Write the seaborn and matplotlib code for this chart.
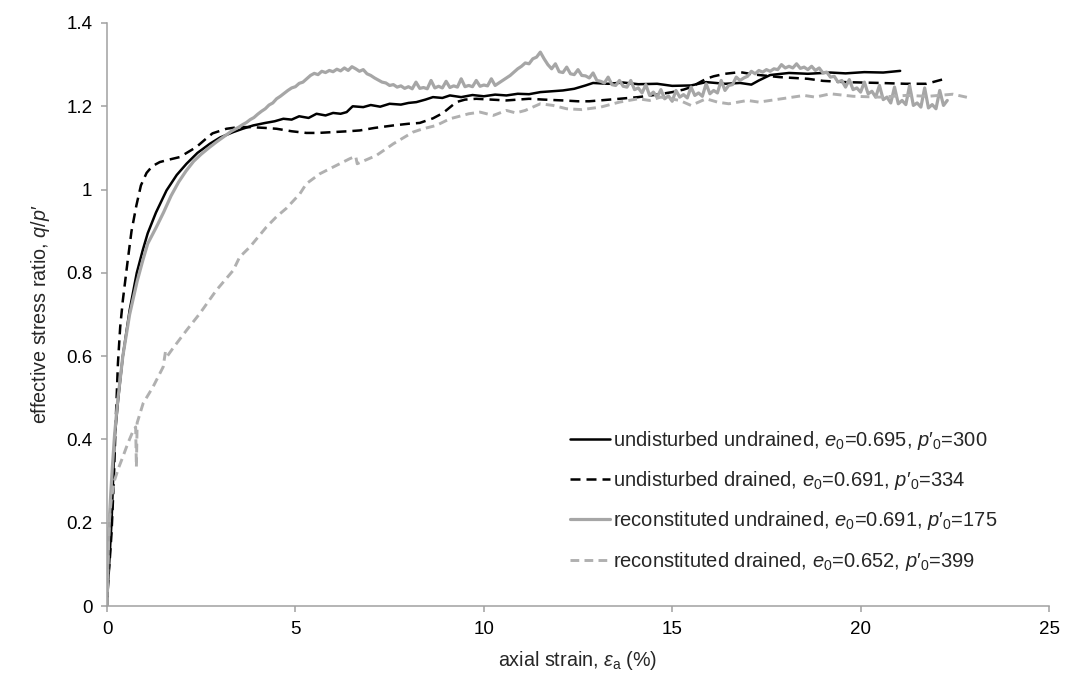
import numpy as np
import pandas as pd
import matplotlib
matplotlib.use("Agg")
import matplotlib.pyplot as plt
from matplotlib.ticker import FuncFormatter
import seaborn as sns

# ---- measured curves: (axial strain %, effective stress ratio q/p') ----
und_undrained = [
    (0.0, 0.0), (0.03, 0.06), (0.07, 0.12), (0.10, 0.17), (0.12, 0.20), (0.16, 0.30),
    (0.20, 0.40), (0.30, 0.50), (0.42, 0.60), (0.60, 0.71), (0.79, 0.80), (0.95, 0.855),
    (1.08, 0.895), (1.30, 0.945), (1.58, 0.998), (1.85, 1.035), (2.11, 1.062),
    (2.40, 1.088), (2.73, 1.110), (3.00, 1.125), (3.35, 1.138), (3.60, 1.146),
    (3.88, 1.154), (4.20, 1.160), (4.45, 1.164), (4.68, 1.170), (4.90, 1.168),
    (5.10, 1.176), (5.35, 1.172), (5.56, 1.182), (5.80, 1.178), (6.00, 1.184),
    (6.20, 1.182), (6.36, 1.186), (6.45, 1.194), (6.52, 1.200), (6.80, 1.198),
    (7.00, 1.203), (7.25, 1.199), (7.50, 1.206), (7.80, 1.204), (8.00, 1.208),
    (8.21, 1.210), (8.45, 1.216), (8.65, 1.222), (8.90, 1.220), (9.10, 1.226),
    (9.40, 1.222), (9.70, 1.227), (10.00, 1.224), (10.30, 1.228), (10.60, 1.226),
    (10.90, 1.230), (11.20, 1.229), (11.50, 1.234), (11.80, 1.236), (12.10, 1.238),
    (12.40, 1.242), (12.70, 1.250), (12.90, 1.256), (13.30, 1.254), (13.70, 1.257),
    (14.10, 1.253), (14.60, 1.254), (15.00, 1.249), (15.50, 1.250), (15.90, 1.258),
    (16.40, 1.254), (16.80, 1.256), (17.10, 1.252), (17.30, 1.262), (17.60, 1.275),
    (18.10, 1.280), (18.60, 1.278), (19.20, 1.281), (19.60, 1.279), (20.10, 1.282),
    (20.60, 1.281), (21.05, 1.285),
]

und_drained = [
    (0.0, 0.0), (0.03, 0.06), (0.08, 0.12), (0.12, 0.175), (0.18, 0.30), (0.23, 0.44),
    (0.29, 0.583), (0.35, 0.67), (0.42, 0.734), (0.55, 0.83), (0.65, 0.90), (0.78, 0.962),
    (0.90, 1.010), (1.05, 1.040), (1.20, 1.056), (1.40, 1.066), (1.65, 1.072),
    (1.93, 1.078), (2.15, 1.090), (2.37, 1.102), (2.60, 1.120), (2.80, 1.135),
    (3.17, 1.146), (3.50, 1.150), (3.79, 1.150), (4.20, 1.148), (4.50, 1.146),
    (4.90, 1.140), (5.29, 1.136), (5.60, 1.136), (6.00, 1.138), (6.40, 1.140),
    (6.71, 1.142), (7.10, 1.148), (7.60, 1.154), (8.00, 1.158), (8.30, 1.160),
    (8.65, 1.171), (8.90, 1.183), (9.00, 1.190), (9.27, 1.210), (9.50, 1.216),
    (9.80, 1.218), (10.20, 1.216), (10.60, 1.214), (10.90, 1.216), (11.20, 1.218),
    (11.60, 1.216), (12.10, 1.214), (12.50, 1.212), (12.80, 1.212), (13.20, 1.215),
    (13.60, 1.218), (14.10, 1.222), (14.60, 1.228), (15.00, 1.234), (15.30, 1.240),
    (15.50, 1.246), (15.70, 1.256), (15.90, 1.266), (16.10, 1.272), (16.40, 1.278),
    (16.80, 1.282), (17.20, 1.276), (17.85, 1.270), (18.60, 1.266), (19.00, 1.261),
    (19.60, 1.258), (20.50, 1.256), (21.20, 1.254), (21.75, 1.254), (22.20, 1.265),
]

rec_undrained = [
    (0.0, 0.0), (0.02, 0.10), (0.04, 0.16), (0.07, 0.22), (0.10, 0.27), (0.14, 0.33),
    (0.20, 0.41), (0.28, 0.49), (0.42, 0.60), (0.60, 0.70), (0.80, 0.78), (0.95, 0.83),
    (1.08, 0.87), (1.31, 0.91), (1.50, 0.945), (1.70, 0.985), (1.90, 1.018),
    (2.10, 1.045), (2.30, 1.068), (2.50, 1.085), (2.70, 1.100), (2.90, 1.114),
    (3.10, 1.127), (3.30, 1.140),
    (3.5, 1.150), (3.6, 1.156), (3.7, 1.161), (3.8, 1.168), (3.9, 1.173), (4.0, 1.181),
    (4.1, 1.188), (4.2, 1.194), (4.3, 1.203), (4.4, 1.208), (4.5, 1.218), (4.6, 1.224),
    (4.7, 1.231), (4.8, 1.238), (4.9, 1.244), (5.0, 1.247), (5.1, 1.255), (5.2, 1.258),
    (5.3, 1.266), (5.4, 1.274), (5.5, 1.279), (5.6, 1.276), (5.7, 1.284), (5.8, 1.281),
    (5.9, 1.286), (6.0, 1.283), (6.1, 1.289), (6.2, 1.285), (6.3, 1.292), (6.4, 1.286),
    (6.5, 1.295), (6.6, 1.290), (6.7, 1.284), (6.8, 1.288), (6.9, 1.278), (7.0, 1.274),
    (7.1, 1.268), (7.2, 1.263), (7.3, 1.258), (7.4, 1.256), (7.5, 1.250), (7.6, 1.252),
    (7.7, 1.246), (7.8, 1.249), (7.9, 1.243), (8.0, 1.247), (8.1, 1.242), (8.2, 1.258),
    (8.3, 1.243), (8.4, 1.245), (8.5, 1.242), (8.6, 1.262), (8.7, 1.244), (8.8, 1.248),
    (8.9, 1.244), (9.0, 1.260), (9.1, 1.245), (9.2, 1.249), (9.3, 1.246), (9.4, 1.266),
    (9.5, 1.247), (9.6, 1.250), (9.7, 1.247), (9.8, 1.262), (9.9, 1.248), (10.0, 1.251),
    (10.1, 1.249), (10.2, 1.266), (10.3, 1.250), (10.4, 1.256), (10.5, 1.262),
    (10.6, 1.268), (10.7, 1.274), (10.8, 1.282), (10.9, 1.290), (11.0, 1.296),
    (11.1, 1.304), (11.2, 1.302), (11.3, 1.314), (11.4, 1.318), (11.5, 1.330),
    (11.6, 1.314), (11.7, 1.300), (11.8, 1.290), (11.9, 1.302), (12.0, 1.283),
    (12.1, 1.281), (12.2, 1.294), (12.3, 1.278), (12.4, 1.276), (12.5, 1.288),
    (12.6, 1.274), (12.7, 1.273), (12.8, 1.268), (12.9, 1.280), (13.0, 1.262),
    (13.1, 1.260), (13.2, 1.256), (13.3, 1.270), (13.4, 1.252), (13.5, 1.250),
    (13.6, 1.262), (13.7, 1.248), (13.8, 1.246), (13.9, 1.262), (14.0, 1.240),
    (14.1, 1.244), (14.2, 1.232), (14.3, 1.252), (14.4, 1.226), (14.5, 1.234),
    (14.6, 1.222), (14.7, 1.240), (14.8, 1.218), (14.9, 1.225), (15.0, 1.212),
    (15.1, 1.238), (15.2, 1.222), (15.3, 1.228), (15.4, 1.220), (15.5, 1.246),
    (15.6, 1.226), (15.7, 1.232), (15.8, 1.224), (15.9, 1.254), (16.0, 1.230),
    (16.1, 1.238), (16.2, 1.232), (16.3, 1.262), (16.4, 1.238), (16.5, 1.250),
    (16.6, 1.252), (16.7, 1.270), (16.8, 1.262), (16.9, 1.268), (17.0, 1.272),
    (17.1, 1.284), (17.2, 1.278), (17.3, 1.286), (17.4, 1.282), (17.5, 1.288),
    (17.6, 1.284), (17.7, 1.290), (17.8, 1.288), (17.9, 1.300), (18.0, 1.292),
    (18.1, 1.296), (18.2, 1.292), (18.3, 1.302), (18.4, 1.291), (18.5, 1.294),
    (18.6, 1.288), (18.7, 1.296), (18.8, 1.286), (18.9, 1.292), (19.0, 1.280),
    (19.1, 1.282), (19.2, 1.270), (19.3, 1.272), (19.4, 1.258), (19.5, 1.262),
    (19.6, 1.246), (19.7, 1.264), (19.8, 1.240), (19.9, 1.244), (20.0, 1.234),
    (20.1, 1.258), (20.2, 1.230), (20.3, 1.236), (20.4, 1.222), (20.5, 1.250),
    (20.6, 1.216), (20.7, 1.222), (20.8, 1.208), (20.9, 1.246), (21.0, 1.206),
    (21.1, 1.214), (21.2, 1.204), (21.3, 1.250), (21.4, 1.202), (21.5, 1.208),
    (21.6, 1.198), (21.7, 1.244), (21.8, 1.196), (21.9, 1.204), (22.0, 1.194),
    (22.1, 1.238), (22.2, 1.202), (22.3, 1.214),
]

rec_drained = [
    (0.0, 0.0), (0.02, 0.08), (0.04, 0.15), (0.07, 0.214), (0.12, 0.26), (0.20, 0.302),
    (0.30, 0.33), (0.42, 0.358), (0.55, 0.39), (0.69, 0.42), (0.76, 0.43), (0.78, 0.334),
    (0.80, 0.44), (0.96, 0.487), (1.22, 0.526), (1.49, 0.574), (1.55, 0.610),
    (1.60, 0.600), (1.75, 0.619), (2.11, 0.662), (2.46, 0.702), (2.90, 0.758),
    (3.35, 0.806), (3.52, 0.838), (3.79, 0.862), (4.23, 0.910), (4.50, 0.935),
    (4.76, 0.955), (5.12, 0.990), (5.29, 1.014), (5.65, 1.038), (6.00, 1.054),
    (6.44, 1.074), (6.60, 1.080), (6.64, 1.062), (7.15, 1.082), (7.60, 1.110),
    (8.12, 1.138), (8.39, 1.146), (8.74, 1.154), (9.10, 1.170), (9.27, 1.174),
    (9.60, 1.182), (9.90, 1.186), (10.25, 1.178), (10.60, 1.190), (10.85, 1.184),
    (11.10, 1.190), (11.50, 1.206), (11.84, 1.202), (12.20, 1.194), (12.60, 1.192),
    (13.10, 1.198), (13.60, 1.210), (14.10, 1.218), (14.40, 1.214), (14.70, 1.222),
    (15.20, 1.214), (15.50, 1.202), (15.90, 1.218), (16.20, 1.210), (16.50, 1.206),
    (17.00, 1.214), (17.30, 1.210), (17.60, 1.214), (17.90, 1.218), (18.50, 1.226),
    (18.80, 1.222), (19.20, 1.230), (19.80, 1.224), (20.50, 1.222), (21.20, 1.226),
    (21.80, 1.224), (22.45, 1.229), (22.80, 1.222), (22.90, 1.220),
]

series_labels = [
    r"undisturbed undrained, $e_0$=0.695, $p′_0$=300",
    r"undisturbed drained, $e_0$=0.691, $p′_0$=334",
    r"reconstituted undrained, $e_0$=0.691, $p′_0$=175",
    r"reconstituted drained, $e_0$=0.652, $p′_0$=399",
]

x_ticks = [0, 5, 10, 15, 20, 25]
y_ticks = [0, 0.2, 0.4, 0.6, 0.8, 1.0, 1.2, 1.4]

# ---- styling ----
sns.set_style("white")
plt.rcParams["font.family"] = ["Liberation Sans", "DejaVu Sans"]
plt.rcParams["mathtext.fontset"] = "custom"
plt.rcParams["mathtext.rm"] = "Liberation Sans"
plt.rcParams["mathtext.it"] = "Liberation Sans:italic"
plt.rcParams["mathtext.bf"] = "Liberation Sans:bold"

TICK_FS = 13.5
LABEL_FS = 14.2
LEGEND_FS = 14.5
AXIS_GREY = "#a0a0a0"

fig, ax = plt.subplots(figsize=(10.69, 6.82), dpi=100)
fig.subplots_adjust(left=0.1001, right=0.9813, top=0.9663, bottom=0.1114)

styles = [
    (und_undrained, "#000000", 1.8, "-"),
    (und_drained, "#000000", 1.8, (0, (4.0, 2.4))),
    (rec_undrained, "#a6a6a6", 2.3, "-"),
    (rec_drained, "#b0b0b0", 2.1, (0, (3.0, 1.8))),
]

for (pts, col, lw, ls), lab in zip(styles, series_labels):
    df = pd.DataFrame(pts, columns=["strain", "ratio"])
    sns.lineplot(data=df, x="strain", y="ratio", ax=ax, color=col, linewidth=lw,
                 linestyle=ls, sort=False, estimator=None, label=lab)

ax.set_xlim(0, 25)
ax.set_ylim(0, 1.4)
ax.set_xticks(x_ticks)
ax.set_yticks(y_ticks)
fmt = FuncFormatter(lambda v, p: f"{v:g}")
ax.xaxis.set_major_formatter(fmt)
ax.yaxis.set_major_formatter(fmt)

for side in ("top", "right"):
    ax.spines[side].set_visible(False)
for side in ("left", "bottom"):
    ax.spines[side].set_color(AXIS_GREY)
    ax.spines[side].set_linewidth(1.1)
ax.tick_params(axis="both", which="major", direction="out", length=4.5, width=1.1,
               color=AXIS_GREY, labelsize=TICK_FS, labelcolor="#000000", pad=6,
               bottom=True, left=True)

ax.set_xlabel(r"axial strain, $\varepsilon_\mathrm{a}$ (%)", fontsize=LABEL_FS, labelpad=8)
ax.set_ylabel(r"effective stress ratio, $q$/$p$′", fontsize=LABEL_FS, labelpad=10)

ax.legend(loc="upper left", bbox_to_anchor=(0.483, 0.318), frameon=False,
          fontsize=LEGEND_FS, handlelength=2.0, handletextpad=0.15, labelspacing=0.86,
          borderaxespad=0.0)

fig.savefig("out.png", dpi=100)
